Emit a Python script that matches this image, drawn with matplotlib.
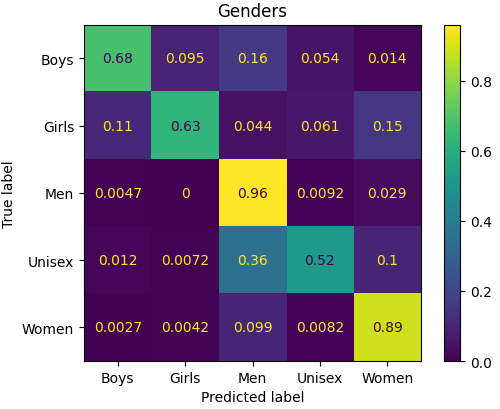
import numpy as np
import matplotlib
matplotlib.use("Agg")
import matplotlib.pyplot as plt

labels = ["Boys", "Girls", "Men", "Unisex", "Women"]
row_boys = [0.68, 0.095, 0.16, 0.054, 0.014]
row_girls = [0.11, 0.63, 0.044, 0.061, 0.15]
row_men = [0.0047, 0.0, 0.96, 0.0092, 0.029]
row_unisex = [0.012, 0.0072, 0.36, 0.52, 0.1]
row_women = [0.0027, 0.0042, 0.099, 0.0082, 0.89]

cm = np.array([row_boys, row_girls, row_men, row_unisex, row_women])

fig = plt.figure(figsize=(5, 4.1), dpi=100)
ax = fig.add_axes([0.168, 0.117, 0.674, 0.820])
cax = fig.add_axes([0.888, 0.117, 0.032, 0.820])

cmap = plt.get_cmap("viridis")
im = ax.imshow(cm, cmap=cmap, interpolation="nearest", aspect="auto")
fig.colorbar(im, cax=cax)

vmin, vmax = cm.min(), cm.max()
thresh = (vmin + vmax) / 2.0
for i in range(cm.shape[0]):
    for j in range(cm.shape[1]):
        color = cmap(1.0) if cm[i, j] < thresh else cmap(0.0)
        ax.text(j, i, format(cm[i, j], ".2g"), ha="center", va="center", color=color)

ax.set_xticks(range(len(labels)))
ax.set_xticklabels(labels)
ax.set_yticks(range(len(labels)))
ax.set_yticklabels(labels)
ax.set_xlabel("Predicted label")
ax.set_ylabel("True label")
ax.set_title("Genders")

fig.savefig("out.png", dpi=100)
